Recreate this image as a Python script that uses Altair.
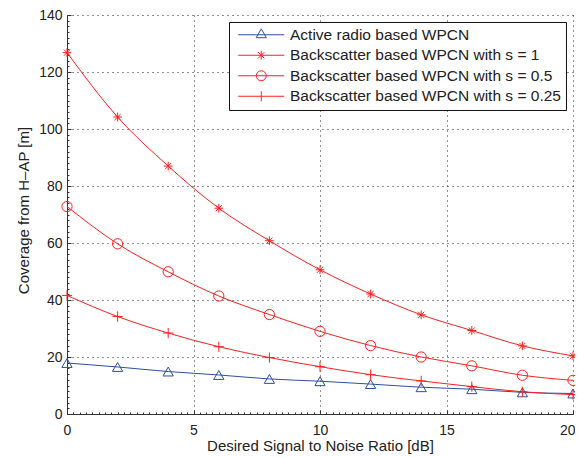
import altair as alt
import pandas as pd

# ---- data ----
snr_db = [0, 2, 4, 6, 8, 10, 12, 14, 16, 18, 20]
active_radio = [17.9, 16.5, 14.9, 13.7, 12.3, 11.5, 10.5, 9.4, 8.7, 7.6, 7.2]
backscatter_s1 = [126.8, 104.2, 87.0, 72.2, 60.8, 50.6, 42.1, 34.8, 29.3, 23.9, 20.4]
backscatter_s05 = [72.8, 59.7, 49.9, 41.4, 34.9, 29.0, 24.0, 20.0, 16.9, 13.6, 11.8]
backscatter_s025 = [41.6, 34.2, 28.4, 23.6, 19.8, 16.6, 13.8, 11.6, 9.6, 7.8, 6.8]

series_names = [
    "Active radio based WPCN",
    "Backscatter based WPCN with s = 1",
    "Backscatter based WPCN with s = 0.5",
    "Backscatter based WPCN with s = 0.25",
]

x_major = [0, 5, 10, 15, 20]
y_major = [0, 20, 40, 60, 80, 100, 120, 140]
x_minor = [i * 0.25 for i in range(81)]
y_minor = list(range(0, 141, 2))

rows = []
for name, vals in zip(series_names, [active_radio, backscatter_s1, backscatter_s05, backscatter_s025]):
    for x, y in zip(snr_db, vals):
        rows.append({"snr": x, "coverage": y, "series": name})
df = pd.DataFrame(rows)

# ---- styling ----
FONT = "Liberation Sans"
TXT = "#222222"
BLUE = "#2d4ea6"
RED = "#ff1f1f"
colors = [BLUE, RED, RED, RED]

STAR = "M-0.85,0L0.85,0M0,-0.85L0,0.85M-0.6,-0.6L0.6,0.6M-0.6,0.6L0.6,-0.6"
PLUS = "M-1,0L1,0M0,-1L0,1"
marker_shapes = ["triangle-up", STAR, "circle", PLUS]

# legend symbols: a 46px line sample with the marker in the middle (unit = 7 px)
LEG_TRI = "M-3.286,0L3.286,0M0,-0.841L-0.729,0.42L0.729,0.42Z"
LEG_STAR = ("M-3.286,0L3.286,0M0,-0.629L0,0.629M-0.445,-0.445L0.445,0.445"
            "M-0.445,0.445L0.445,-0.445")
LEG_CIRC = "M-3.286,0L3.286,0M0.714,0A0.714,0.714,0,1,1,-0.714,0A0.714,0.714,0,1,1,0.714,0"
LEG_PLUS = "M-3.286,0L3.286,0M0,-0.714L0,0.714"
legend_shapes = [LEG_TRI, LEG_STAR, LEG_CIRC, LEG_PLUS]

legend = alt.Legend(
    orient="none",
    legendX=162,
    legendY=7,
    title=None,
    strokeColor="#111111",
    fillColor="white",
    padding=5,
    labelFont=FONT,
    labelFontSize=15.5,
    labelColor=TXT,
    labelOffset=21,
    labelLimit=400,
    rowPadding=3.5,
    symbolSize=196,
    symbolOffset=19.5,
    symbolStrokeWidth=1,
    symbolOpacity=1,
)

xscale = alt.Scale(domain=[0, 20], nice=False, zero=False)
yscale = alt.Scale(domain=[0, 140], nice=False)
color_scale = alt.Scale(domain=series_names, range=colors)

x_axis_main = alt.Axis(
    orient="bottom", values=x_major, grid=True, gridDash=[1, 4], gridColor="#222222",
    gridWidth=1, ticks=False, domain=True, domainColor="#333333", domainWidth=1,
    labelFont=FONT, labelFontSize=14, labelColor=TXT, labelPadding=9, labelFlush=False,
    labelOverlap=False,
    labelAlign={"condition": {"test": "datum.value === 20", "value": "right"}, "value": "center"},
    labelOffset={"condition": {"test": "datum.value === 20", "value": 2}, "value": 0},
    title="Desired Signal to Noise Ratio [dB]", titleFont=FONT, titleFontSize=15,
    titleFontWeight="normal", titleColor=TXT, titleX=253, titleY=36,
    titleBaseline="alphabetic", titleAlign="center",
)
y_axis_main = alt.Axis(
    orient="left", values=y_major, grid=True, gridDash=[1, 4], gridColor="#222222",
    gridWidth=1, ticks=False, domain=True, domainColor="#333333", domainWidth=1,
    labelFont=FONT, labelFontSize=14, labelColor=TXT, labelPadding=5, labelFlush=False,
    labelOverlap=False,
    title="Coverage from H–AP [m]", titleFont=FONT, titleFontSize=15,
    titleFontWeight="normal", titleColor=TXT, titleX=-39, titleY=195, titleAngle=270,
    titleBaseline="alphabetic", titleAlign="center",
)
x_axis_ticks = alt.Axis(
    orient="top", offset=-399, values=x_minor, ticks=True,
    tickSize={"condition": {"test": "datum.value % 5 === 0", "value": 4}, "value": 2},
    tickColor="#333333", tickWidth=1, labels=False, domain=False, grid=False, title=None,
)
y_axis_ticks = alt.Axis(
    orient="right", offset=-506, values=y_minor, ticks=True,
    tickSize={"condition": {"test": "datum.value % 20 === 0", "value": 4}, "value": 2},
    tickColor="#333333", tickWidth=1, labels=False, domain=False, grid=False, title=None,
)

lines = alt.Chart(df).mark_line(interpolate="monotone", strokeWidth=1).encode(
    x=alt.X("snr:Q", scale=xscale, axis=x_axis_main),
    y=alt.Y("coverage:Q", scale=yscale, axis=y_axis_main),
    color=alt.Color("series:N", scale=color_scale, legend=legend),
    detail="series:N",
)

# legend-carrying layer: its own marks are fully transparent; it also carries the inward tick axes
legend_layer = alt.Chart(df).mark_point(filled=False, opacity=0).encode(
    x=alt.X("snr:Q", scale=xscale, axis=x_axis_ticks),
    y=alt.Y("coverage:Q", scale=yscale, axis=y_axis_ticks),
    color=alt.Color("series:N", scale=color_scale, legend=legend),
    shape=alt.Shape("series:N", scale=alt.Scale(domain=series_names, range=legend_shapes), legend=legend),
)

point_layers = []
for name, shp, col in zip(series_names, marker_shapes, colors):
    point_layers.append(
        alt.Chart(df).transform_filter(alt.datum.series == name).mark_point(
            shape=shp, color=col, filled=False, size=105, strokeWidth=1, opacity=1
        ).encode(
            x=alt.X("snr:Q", scale=xscale, axis=None),
            y=alt.Y("coverage:Q", scale=yscale, axis=None),
        )
    )

chart = (
    alt.layer(lines, legend_layer, *point_layers)
    .resolve_axis(x="independent", y="independent")
    .properties(
        width=506,
        height=399,
        autosize=alt.AutoSizeParams(type="none"),
        padding={"left": 59, "top": 7, "right": 2, "bottom": 40},
        background="white",
    )
    .configure_view(stroke="transparent")
)

chart.save("out.html", embed_options={"renderer": "svg", "actions": False})
